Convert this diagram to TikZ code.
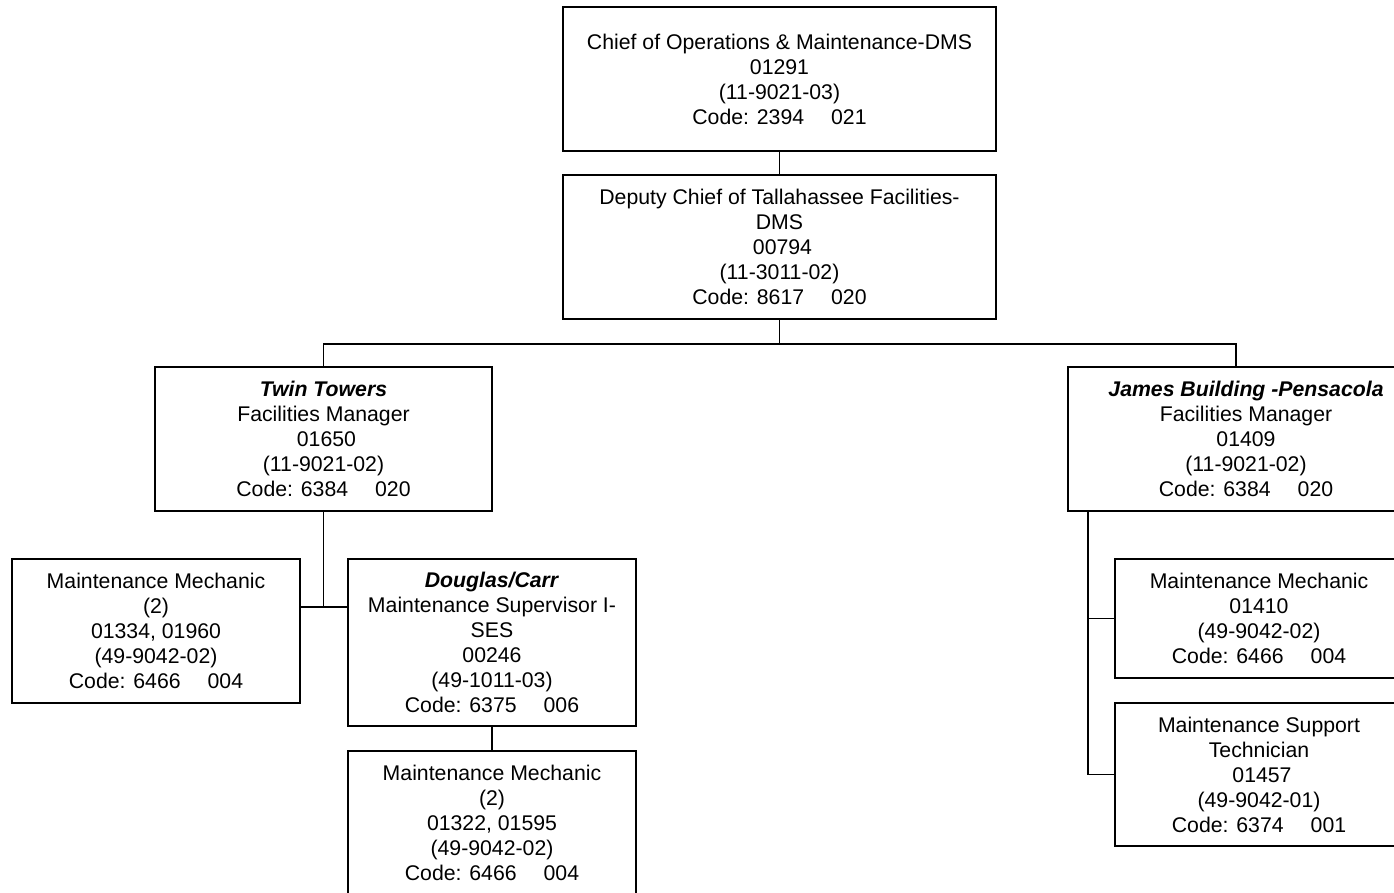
\documentclass[tikz,border=0pt]{standalone}
\usepackage{fontspec}
\setmainfont{Liberation Sans}
\newcommand{\codegap}{\hspace{27pt}}
\newcommand{\lead}{\hspace*{0.28em}}
\begin{document}
\begin{tikzpicture}[x=1pt,y=-1pt,
  box/.style={draw, line width=1.8pt, inner sep=0pt, align=center,
    font=\fontsize{21.25}{25}\selectfont},
  link/.style={line width=1.8pt}]
\useasboundingbox (0,0) rectangle (1394,892);
\clip (0,0) rectangle (1394,892);

% top of the chart
\node[box, minimum width=433, minimum height=144] (chief) at (779.5,79)
  {Chief of Operations \& Maintenance-DMS\\01291\\(11-9021-03)\\Code: 2394\codegap021};
\node[box, minimum width=433, minimum height=144] (deputy) at (779.5,247)
  {Deputy Chief of Tallahassee Facilities-\\DMS\\\lead00794\\(11-3011-02)\\Code: 8617\codegap020};

% facility managers
\node[box, minimum width=337, minimum height=144] (twin) at (323.5,439)
  {\textbf{\textit{Twin Towers}}\\Facilities Manager\\\lead01650\\(11-9021-02)\\Code: 6384\codegap020};
\node[box, minimum width=356, minimum height=144] (james) at (1246,439)
  {\textbf{\textit{James Building -Pensacola}}\\Facilities Manager\\01409\\(11-9021-02)\\Code: 6384\codegap020};

% Twin Towers staff
\node[box, minimum width=288, minimum height=144] (lmm) at (156,631)
  {Maintenance Mechanic\\(2)\\01334, 01960\\(49-9042-02)\\Code: 6466\codegap004};
\node[box, minimum width=288, minimum height=167] (douglas) at (492,642.5)
  {\textbf{\textit{Douglas/Carr}}\\Maintenance Supervisor I-\\SES\\00246\\(49-1011-03)\\Code: 6375\codegap006};
\node[box, minimum width=288, minimum height=144] (dmm) at (492,823)
  {Maintenance Mechanic\\(2)\\01322, 01595\\(49-9042-02)\\Code: 6466\codegap004};

% James Building staff
\node[box, minimum width=288, minimum height=119] (rmm) at (1259,618.5)
  {Maintenance Mechanic\\01410\\(49-9042-02)\\Code: 6466\codegap004};
\node[box, minimum width=288, minimum height=143] (rsup) at (1259,774.5)
  {Maintenance Support\\Technician\\\lead01457\\(49-9042-01)\\Code: 6374\codegap001};

% connectors
\coordinate (tj) at (twin.south |- 0,607);
\draw[link] (chief.south) -- (deputy.north);
\draw[link] (deputy.south) -- ++(0,24) coordinate (bus) -| (twin.north);
\draw[link] (bus) -| ([xshift=-10pt]james.north);
\draw[link] (twin.south) -- (tj);
\draw[link] (lmm.east |- tj) -- (douglas.west |- tj);
\draw[link] (douglas.south) -- (dmm.north);
\draw[link] ([xshift=21pt]james.south west) |- (rmm.west);
\draw[link] ([xshift=21pt]james.south west) |- (rsup.west);
\end{tikzpicture}
\end{document}
